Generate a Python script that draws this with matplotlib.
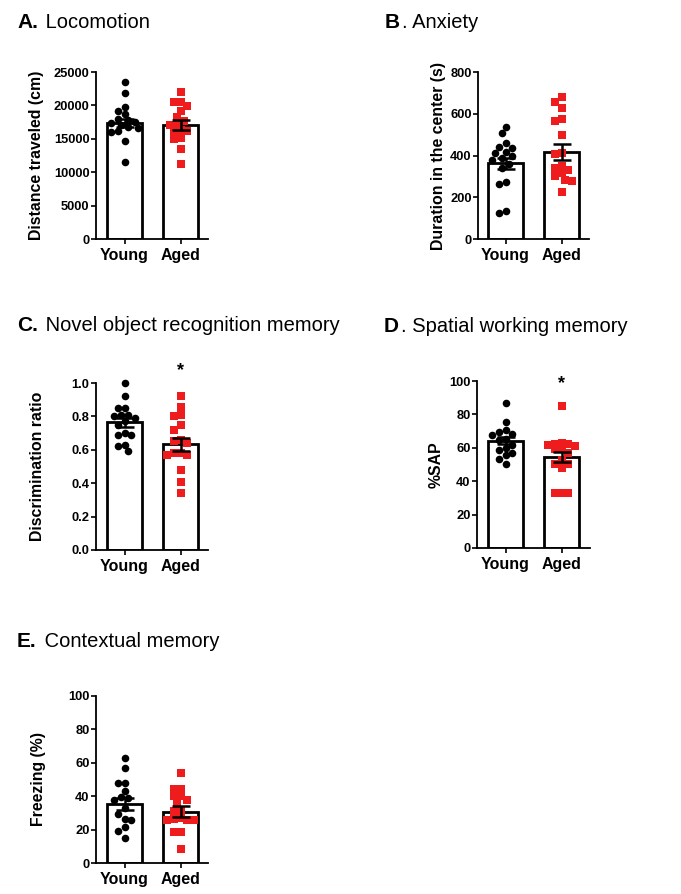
import numpy as np
import matplotlib
matplotlib.use("Agg")
import matplotlib.pyplot as plt

plt.rcParams['font.family'] = ['Liberation Sans', 'DejaVu Sans']

groups = ["Young", "Aged"]

# ---- data ----
loco_young = [23550, 21900, 19800, 19150, 18700, 18000, 17800, 17500, 17300, 17100,
              16800, 16600, 16100, 16000, 14600, 11550]
loco_aged = [22050, 20550, 20550, 19900, 19200, 18300, 17600, 17200, 17100, 16300,
             16200, 16200, 15000, 15100, 13400, 11200]
loco_mean = [17400, 17070]
loco_sem = [600, 800]

anx_young = [535, 506, 458, 441, 434, 417, 410, 399, 388, 380, 360, 340, 274, 263, 135, 126]
anx_aged = [682, 655, 629, 575, 565, 498, 410, 407, 350, 339, 330, 315, 300, 283, 280, 227]
anx_mean = [362, 418]
anx_sem = [25, 38]

nor_young = [1.0, 0.92, 0.85, 0.85, 0.81, 0.81, 0.80, 0.79, 0.77, 0.75, 0.70, 0.69,
             0.69, 0.63, 0.62, 0.59]
nor_aged = [0.925, 0.855, 0.81, 0.80, 0.75, 0.72, 0.66, 0.65, 0.64, 0.58, 0.57, 0.57,
            0.58, 0.48, 0.41, 0.34]
nor_mean = [0.765, 0.633]
nor_sem = [0.027, 0.038]

sap_young = [86.6, 75.3, 70.7, 69.6, 68.0, 67.5, 65.0, 64.5, 61.7, 60.0, 58.7, 57.0,
             55.7, 53.0, 50.3]
sap_aged = [85.0, 63.0, 62.5, 62.0, 61.5, 61.0, 60.0, 59.0, 57.0, 52.7, 50.3, 50.3,
            47.7, 33.0, 33.0, 33.0]
sap_mean = [64.3, 54.7]
sap_sem = [2.2, 3.0]

frz_young = [62.7, 56.7, 48.0, 48.0, 43.3, 39.5, 39.0, 37.5, 32.8, 29.3, 26.2, 25.7,
             21.5, 19.4, 14.8]
frz_aged = [53.7, 44.6, 44.6, 40.0, 40.0, 38.0, 36.0, 32.0, 31.0, 25.7, 25.7, 25.7,
            26.5, 27.0, 18.8, 18.8, 8.4]
frz_mean = [35.3, 30.7]
frz_sem = [3.5, 3.2]

RED = '#ee1c1c'
W, H = 681, 894
fig = plt.figure(figsize=(W / 100, H / 100), dpi=100)


def swarm(vals, ymax, h_px, unit_px, d=6.8, xmax=15.0):
    vals = np.asarray(vals, float)
    order = np.argsort(-vals)
    placed = []
    offs = np.zeros(len(vals))
    n = int(xmax // (d / 2))
    cands = sorted(np.arange(-n, n + 1) * d / 2.0, key=lambda v: (abs(v), v))
    for i in order:
        y = vals[i] / ymax * h_px
        best, bestd = 0.0, -1
        for x in cands:
            md = min([np.hypot(x - px, y - py) for px, py in placed] or [1e9])
            if md >= d:
                best = x
                break
            if md > bestd + 0.5:
                best, bestd = x, md
        placed.append((best, y))
        offs[i] = best / unit_px
    return offs


def panel(axis_left_px, top_px, c0_px, c1_px, right_px, label_cx_px, young, aged,
          mean, sem, ymax, yticks, ylabel, fmt=None, star=None):
    bottom_px = top_px + 167
    wpx = right_px - axis_left_px
    ax = fig.add_axes([axis_left_px / W, 1 - bottom_px / H, wpx / W, 167 / H])
    unit = c1_px - c0_px
    ax.set_xlim(-(c0_px - axis_left_px) / unit, 1 + (right_px - c1_px) / unit)
    ax.set_ylim(0, ymax)
    x = np.arange(2)
    ax.bar(x, mean, width=35 / unit, color='white', edgecolor='black', linewidth=2.0,
           zorder=1)
    oy = swarm(young, ymax, 167, unit)
    oa = swarm(aged, ymax, 167, unit)
    ax.scatter(x[0] + oy, young, s=30, marker='o', color='black', linewidths=0,
               zorder=2, clip_on=False)
    ax.scatter(x[1] + oa, aged, s=27, marker='s', color=RED, linewidths=0,
               zorder=2, clip_on=False)
    ax.errorbar(x, mean, yerr=sem, fmt='none', ecolor='black', elinewidth=1.8,
                capsize=6.5, capthick=1.8, zorder=3)
    for s in ['top', 'right']:
        ax.spines[s].set_visible(False)
    for s in ['left', 'bottom']:
        ax.spines[s].set_linewidth(1.3)
    ax.set_xticks(x)
    ax.set_xticklabels(groups, fontsize=11.5, fontweight='bold')
    ax.set_yticks(yticks)
    if fmt:
        ax.set_yticklabels([fmt % t for t in yticks])
    ax.tick_params(axis='y', labelsize=9.3, width=1.2, length=3.6, pad=1)
    ax.tick_params(axis='x', width=1.2, length=3.6, pad=3)
    for lb in ax.get_yticklabels():
        lb.set_fontweight('bold')
    ax.set_ylabel(ylabel, fontsize=11.4, fontweight='bold', va='center')
    ax.yaxis.set_label_coords((label_cx_px - axis_left_px) / wpx, 0.5)
    if star is not None:
        ax.text(1, star, '*', ha='center', va='baseline', fontsize=13,
                fontweight='bold', clip_on=False)
    return ax


def make_title(x_px, y_px, letter, rest):
    t = fig.text(x_px / W, 1 - y_px / H, letter, fontsize=15, fontweight='bold',
                 va='baseline', ha='left')
    fig.canvas.draw()
    bb = t.get_window_extent()
    fig.text((bb.x1 + 2) / W, 1 - y_px / H, rest, fontsize=14.5, va='baseline',
             ha='left')


panel(96, 72, 124.5, 180.5, 208, 37, loco_young, loco_aged, loco_mean, loco_sem,
      25000, [0, 5000, 10000, 15000, 20000, 25000], 'Distance traveled (cm)')
panel(478, 72, 505.5, 561.5, 589, 438, anx_young, anx_aged, anx_mean, anx_sem,
      800, [0, 200, 400, 600, 800], 'Duration in the center (s)')
panel(96, 383, 124.5, 180.5, 208, 38, nor_young, nor_aged, nor_mean, nor_sem,
      1.0, [0, 0.2, 0.4, 0.6, 0.8, 1.0], 'Discrimination ratio', fmt='%.1f',
      star=1.048)
panel(477, 381, 505.5, 561.5, 590, 436, sap_young, sap_aged, sap_mean, sap_sem,
      100, [0, 20, 40, 60, 80, 100], '%SAP', star=95.8)
panel(96, 696, 124.5, 180.5, 208, 38, frz_young, frz_aged, frz_mean, frz_sem,
      100, [0, 20, 40, 60, 80, 100], 'Freezing (%)')

make_title(17, 28, 'A.', ' Locomotion')
make_title(385, 28, 'B', '. Anxiety')
make_title(17, 331, 'C.', ' Novel object recognition memory')
make_title(384, 332, 'D', '. Spatial working memory')
make_title(17, 647, 'E.', ' Contextual memory')

fig.savefig('out.png', dpi=100, facecolor='white')
